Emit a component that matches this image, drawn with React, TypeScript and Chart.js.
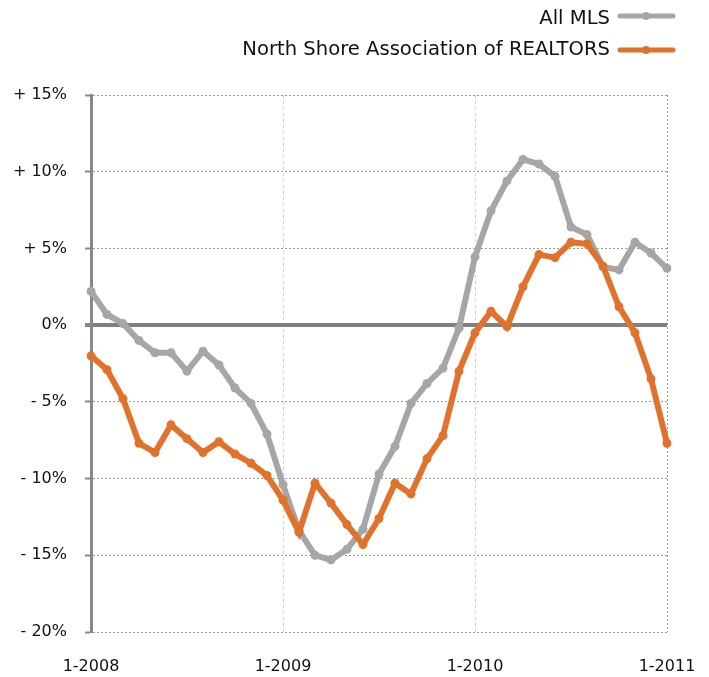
import React, { useEffect, useRef } from "react";
import { Chart, registerables } from "chart.js";

Chart.register(...registerables);

const months: string[] = [
  "1-2008", "2-2008", "3-2008", "4-2008", "5-2008", "6-2008", "7-2008", "8-2008", "9-2008", "10-2008", "11-2008", "12-2008",
  "1-2009", "2-2009", "3-2009", "4-2009", "5-2009", "6-2009", "7-2009", "8-2009", "9-2009", "10-2009", "11-2009", "12-2009",
  "1-2010", "2-2010", "3-2010", "4-2010", "5-2010", "6-2010", "7-2010", "8-2010", "9-2010", "10-2010", "11-2010", "12-2010",
  "1-2011",
];

const tickLabels: string[] = ["1-2008", "1-2009", "1-2010", "1-2011"];

const allMLS: number[] = [
  2.2, 0.7, 0.1, -1.0, -1.8, -1.8, -3.0, -1.7, -2.6, -4.1, -5.1, -7.1,
  -10.4, -13.4, -15.0, -15.3, -14.6, -13.3, -9.7, -7.9, -5.1, -3.8, -2.8, -0.2,
  4.45, 7.45, 9.4, 10.8, 10.5, 9.7, 6.4, 5.9, 3.8, 3.6, 5.4, 4.7,
  3.7,
];

const northShore: number[] = [
  -2.0, -2.9, -4.8, -7.7, -8.3, -6.5, -7.4, -8.3, -7.6, -8.4, -9.0, -9.8,
  -11.4, -13.5, -10.3, -11.6, -13.0, -14.3, -12.6, -10.3, -11.0, -8.7, -7.2, -3.0,
  -0.5, 0.9, -0.1, 2.5, 4.6, 4.4, 5.4, 5.3, 3.85, 1.2, -0.5, -3.5,
  -7.7,
];

const seriesNames: string[] = ["All MLS", "North Shore Association of REALTORS"];
const seriesColors: string[] = ["#a6a6a6", "#e0722b"];

const FONT = '"DejaVu Sans", "Liberation Sans", sans-serif';

const legendPlugin = {
  id: "rightLegend",
  afterDraw(chart: any) {
    const ctx = chart.ctx as CanvasRenderingContext2D;
    const rows = [16, 50];
    ctx.save();
    ctx.font = `19.6px ${FONT}`;
    ctx.textAlign = "right";
    ctx.textBaseline = "middle";
    seriesNames.forEach((name, i) => {
      const y = rows[i];
      ctx.fillStyle = "#111";
      ctx.fillText(name, 610, y + (i === 0 ? 3 : 0));
      ctx.strokeStyle = seriesColors[i];
      ctx.lineWidth = 5;
      ctx.lineCap = "round";
      ctx.beginPath();
      ctx.moveTo(620, y);
      ctx.lineTo(673, y);
      ctx.stroke();
      ctx.fillStyle = seriesColors[i];
      ctx.beginPath();
      ctx.arc(646, y, 4, 0, Math.PI * 2);
      ctx.fill();
    });
    ctx.restore();
  },
};

function fmtPct(v: number): string {
  if (v > 0) return "+ " + v + "%";
  if (v < 0) return "- " + Math.abs(v) + "%";
  return "0%";
}

export default function App() {
  const ref = useRef<HTMLCanvasElement | null>(null);

  useEffect(() => {
    if (!ref.current) return;
    const chart = new Chart(ref.current, {
      type: "line",
      data: {
        labels: months,
        datasets: [
          {
            label: seriesNames[0],
            data: allMLS,
            borderColor: seriesColors[0],
            backgroundColor: seriesColors[0],
            borderWidth: 6,
            pointRadius: 4.5,
            pointBorderWidth: 0,
            pointBackgroundColor: seriesColors[0],
            tension: 0,
            order: 2,
          },
          {
            label: seriesNames[1],
            data: northShore,
            borderColor: seriesColors[1],
            backgroundColor: seriesColors[1],
            borderWidth: 6,
            pointRadius: 4.5,
            pointBorderWidth: 0,
            pointBackgroundColor: seriesColors[1],
            tension: 0,
            order: 1,
          },
        ],
      },
      options: {
        responsive: false,
        animation: false,
        layout: { padding: { left: 0, right: 42, top: 95, bottom: 0 } },
        plugins: {
          legend: { display: false },
          tooltip: { enabled: false },
        },
        scales: {
          x: {
            type: "category",
            afterFit: (s: any) => {
              s.height = 45;
              s.paddingLeft = 0;
              s.paddingRight = 0;
            },
            border: {
              display: false,
              dash: (c: any) => (c.index === 36 ? [2, 2] : [3, 3]),
            },
            grid: {
              drawTicks: false,
              color: (c: any) =>
                c.index === 36 ? "#999999" : c.index % 12 === 0 && c.index > 0 ? "#d0d0d0" : "rgba(0,0,0,0)",
              lineWidth: 1,
            },
            ticks: {
              autoSkip: false,
              maxRotation: 0,
              minRotation: 0,
              padding: 25,
              color: "#111",
              font: { family: FONT, size: 16 },
              callback: (_v: any, i: number) => (i % 12 === 0 ? tickLabels[i / 12] : ""),
            },
          },
          y: {
            min: -20,
            max: 15,
            afterFit: (s: any) => {
              s.width = 91;
              s.paddingTop = 0;
              s.paddingBottom = 0;
            },
            border: {
              display: true,
              color: "#888888",
              width: 3,
              dash: (c: any) => (c.tick && c.tick.value === 0 ? [] : [2, 2]),
            },
            grid: {
              color: (c: any) => (c.tick && c.tick.value === 0 ? "#808080" : "#9a9a9a"),
              lineWidth: (c: any) => (c.tick && c.tick.value === 0 ? 4 : 1),
              tickLength: 6,
              tickColor: "#888888",
              tickWidth: (c: any) => (c.tick && c.tick.value === 0 ? 4 : 2),
            },
            ticks: {
              stepSize: 5,
              padding: 18,
              color: "#111",
              font: { family: FONT, size: 16 },
              callback: (v: any) => fmtPct(Number(v)),
            },
          },
        },
      },
      plugins: [legendPlugin],
    });
    return () => chart.destroy();
  }, []);

  return (
    <div style={{ position: "absolute", left: 0, top: 0, width: 709, height: 677, background: "#fff" }}>
      <canvas ref={ref} width={709} height={677} style={{ display: "block", width: 709, height: 677 }} />
    </div>
  );
}
